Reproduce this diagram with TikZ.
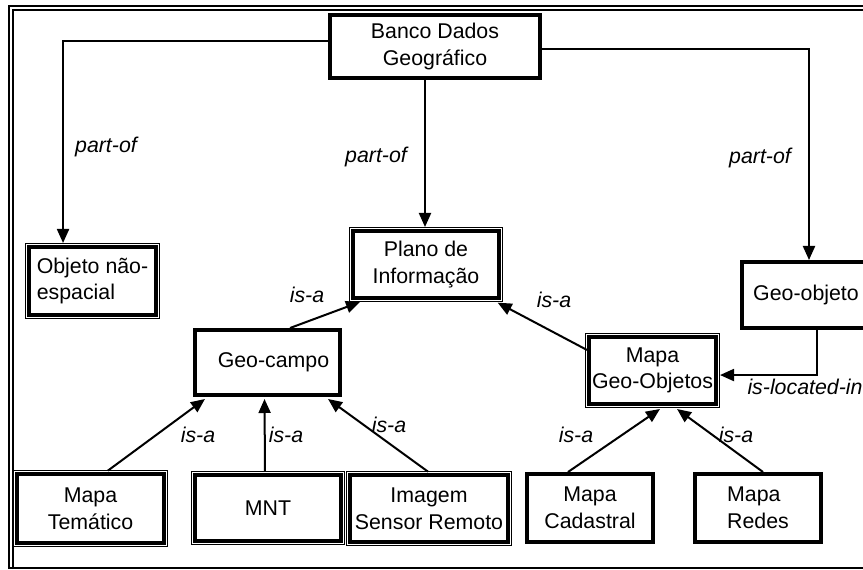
\documentclass[tikz,border=0pt]{standalone}
\usepackage{fontspec}
\setmainfont{Liberation Sans}
\usetikzlibrary{arrows.meta,calc}
\begin{document}
\begin{tikzpicture}[x=0.75pt,y=-0.75pt,
  every node/.style={font=\fontsize{16}{20}\selectfont},
  sbox/.style={draw, line width=3pt, inner sep=0pt, align=center},
  box/.style n args={2}{minimum width=#1*0.75pt, minimum height=#2*0.75pt},
  thinline/.style={line width=0.9pt},
  conn/.style={line width=1.5pt, -{Triangle[length=10.5pt,width=9pt]}},
  lbl/.style={font=\fontsize{16}{20}\selectfont\itshape, inner sep=0pt}]
\useasboundingbox (0,0) rectangle (863,570);
\clip (0,0) rectangle (863,570);

% outer frame
\draw[line width=1.5pt] (9,569) -- (9,6) -- (880,6);
\draw[thinline] (13,569) -- (13,10) -- (880,10);
\draw[thinline] (9,568) -- (880,568);

% nodes
\node[sbox, box={210}{63}] (banco) at (435,46.5) {Banco Dados\\Geográfico};
\node[sbox, box={127}{68}, align=left] (obj) at (92.5,281) {Objeto não-\\espacial};
\node[sbox, box={146}{67}] (plano) at (426,264.5) {Plano de\\Informação};
\node[sbox, box={145}{65}] (geocampo) at (267.5,362.5) {\hspace*{9pt}Geo-campo};
\node[sbox, box={128}{66}] (geoobj) at (806,295) {Geo-objeto};
\node[sbox, box={127}{67}] (mgo) at (652.5,370.5) {Mapa\\Geo-Objetos};
\node[sbox, box={147}{69}] (tem) at (90.5,508.5) {Mapa\\Temático};
\node[sbox, box={146}{66}] (mnt) at (268,508) {MNT};
\node[sbox, box={158}{67}] (img) at (429,508.5) {Imagem\\Sensor Remoto};
\node[sbox, box={126}{68}] (cad) at (590,508) {Mapa\\Cadastral};
\node[sbox, box={126}{68}, align=left] (redes) at (758,508) {Mapa\\Redes};

% double borders
\foreach \n in {obj,plano,mgo,tem,mnt,img}
  \draw[thinline] ([xshift=-1.2pt,yshift=1.2pt]\n.north west) rectangle ([xshift=1.2pt,yshift=-1.2pt]\n.south east);
\draw[thinline] ([xshift=2.6pt,yshift=-2.6pt]banco.north west) rectangle ([xshift=-2.6pt,yshift=2.6pt]banco.south east);

% part-of connectors
\draw[conn] ([yshift=4.1pt]banco.west) -| ([xshift=-22.1pt,yshift=1.5pt]obj.north);
\draw[conn] ([xshift=-7.5pt]banco.south) -- ([xshift=-0.75pt,yshift=1.5pt]plano.north);
\draw[conn] ([yshift=-1.9pt]banco.east) -| ([xshift=2.25pt]geoobj.north);

% is-a connectors
\draw[conn] ([xshift=16.9pt]geocampo.north) -- ([xshift=-49.5pt,yshift=-1.5pt]plano.south);
\draw[conn] ([yshift=15.4pt]mgo.west) -- ([xshift=-2.5pt,yshift=-2pt]plano.south east);
\draw[conn] ([xshift=8.25pt]geoobj.south) |- ([xshift=1.5pt,yshift=-3.4pt]mgo.east);
\draw[conn] ([xshift=13pt,yshift=1pt]tem.north) -- ([xshift=-46.9pt,yshift=-1.5pt]geocampo.south);
\draw[conn] ([xshift=-2.25pt,yshift=1pt]mnt.north) -- ([xshift=-2.25pt,yshift=-1.5pt]geocampo.south);
\draw[conn] ([xshift=-0.75pt,yshift=1pt]img.north) -- ([xshift=45.4pt,yshift=-1.5pt]geocampo.south);
\draw[conn] ([xshift=-16.5pt]cad.north) -- ([xshift=5.6pt,yshift=-2.25pt]mgo.south);
\draw[conn] ([xshift=3.75pt]redes.north) -- ([xshift=18.4pt,yshift=-2.25pt]mgo.south);

% labels
\node[lbl] (l1) at (106,147) {part-of};
\node[lbl] (l2) at (376,157) {part-of};
\node[lbl] (l3) at (760,158) {part-of};
\node[lbl] (l4) at (307,295) {is-a};
\node[lbl] (l5) at (554,300) {is-a};
\node[lbl] (l6) at (805,387) {is-located-in};
\node[lbl] (l7) at (198,435) {is-a};
\node[lbl] (l8) at (286,435) {is-a};
\node[lbl] (l9) at (389,425) {is-a};
\node[lbl] (l10) at (576,435) {is-a};
\node[lbl] (l11) at (736,435) {is-a};
\end{tikzpicture}
\end{document}
